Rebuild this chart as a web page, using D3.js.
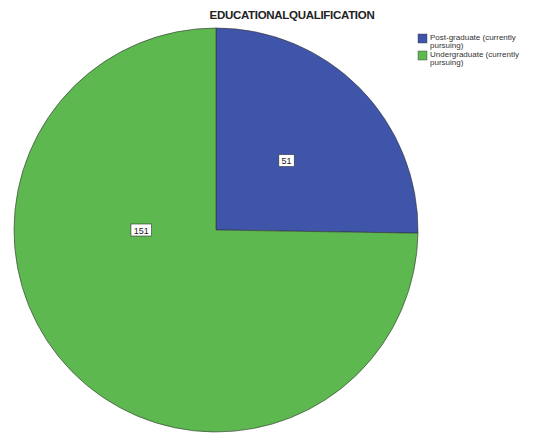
<!DOCTYPE html>
<html>
<head>
<meta charset="utf-8">
<script src="https://cdn.jsdelivr.net/npm/d3@7"></script>
<style>
  html, body { margin: 0; padding: 0; background: #fff; }
  svg { display: block; font-family: "Liberation Sans", Arial, sans-serif; }
</style>
</head>
<body>
<svg id="chart" width="540" height="435"></svg>
<script>
const title = "EDUCATIONALQUALIFICATION";
const categories = ["Post-graduate (currently pursuing)", "Undergraduate (currently pursuing)"];
const legendLines = [["Post-graduate (currently", "pursuing)"], ["Undergraduate (currently", "pursuing)"]];
const counts = [51, 151];
const colors = ["#3f55a9", "#5cb84f"];

const svg = d3.select("#chart");
const cx = 216, cy = 230, r = 202;

svg.append("text")
  .attr("x", 292).attr("y", 19)
  .attr("text-anchor", "middle")
  .attr("font-size", 11.5).attr("font-weight", "bold")
  .attr("fill", "#222")
  .attr("letter-spacing", "-0.3")
  .text(title);

const data = categories.map((c, i) => ({ name: c, value: counts[i], color: colors[i] }));
const pie = d3.pie().value(d => d.value).sort(null);
const arcs = pie(data);
const arc = d3.arc().innerRadius(0).outerRadius(r);

const g = svg.append("g").attr("transform", `translate(${cx},${cy})`);
g.selectAll("path").data(arcs).join("path")
  .attr("d", arc)
  .attr("fill", d => d.data.color)
  .attr("stroke", "#333")
  .attr("stroke-width", 0.6);

// value labels in boxes: small slices at their mid-angle, large slices
// a quarter turn back from their end edge, nearer the centre
function labelPos(d) {
  const big = d.endAngle - d.startAngle > Math.PI;
  const a = big ? d.endAngle - Math.PI / 2 : (d.startAngle + d.endAngle) / 2;
  const rr = big ? r * 0.37 : r * 0.49;
  return [Math.sin(a) * rr, -Math.cos(a) * rr];
}
const labels = g.selectAll("g.lbl").data(arcs).join("g")
  .attr("class", "lbl")
  .attr("transform", d => `translate(${labelPos(d)})`);
labels.each(function(d) {
  const t = String(d.data.value);
  const w = t.length * 5.2 + 5;
  const sel = d3.select(this);
  sel.append("rect")
    .attr("x", -w / 2).attr("y", -6).attr("width", w).attr("height", 12)
    .attr("fill", "#fff").attr("stroke", "#333").attr("stroke-width", 0.6);
  sel.append("text")
    .attr("text-anchor", "middle").attr("y", 3.5)
    .attr("font-size", 9).attr("fill", "#222")
    .text(t);
});

// legend
const lg = svg.append("g").attr("transform", "translate(418,34)");
legendLines.forEach((lines, i) => {
  const row = lg.append("g").attr("transform", `translate(0,${i * 17})`);
  row.append("rect").attr("x", 0).attr("y", 0).attr("width", 9).attr("height", 9)
    .attr("fill", colors[i]).attr("stroke", "#333").attr("stroke-width", 0.4);
  lines.forEach((ln, j) => {
    row.append("text").attr("x", 12).attr("y", 6 + j * 7.5)
      .attr("font-size", 8).attr("fill", "#333").text(ln);
  });
});
</script>
</body>
</html>
